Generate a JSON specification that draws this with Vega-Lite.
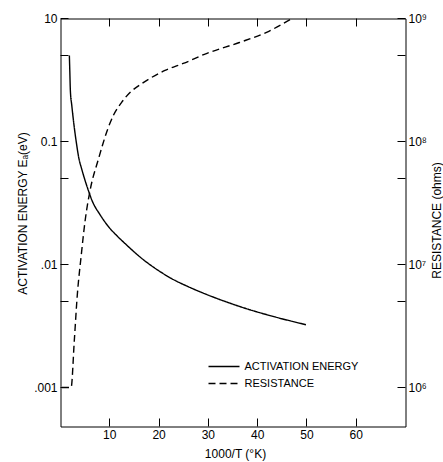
{
  "$schema": "https://vega.github.io/schema/vega-lite/v6.json",
  "width": 345,
  "height": 408,
  "autosize": {"type": "none"},
  "padding": {"left": 60.5, "top": 18.5, "right": 37.5, "bottom": 35.5},
  "background": "white",
  "config": {
    "view": {"stroke": "black", "strokeWidth": 1},
    "font": "Liberation Sans",
    "axis": {
      "domain": false,
      "tickColor": "black",
      "labelColor": "black",
      "titleColor": "black",
      "labelFont": "Liberation Sans",
      "titleFont": "Liberation Sans",
      "labelFontSize": 12,
      "titleFontSize": 12,
      "titleFontWeight": "normal",
      "grid": false,
      "offset": -8,
      "tickSize": 8,
      "tickWidth": 1,
      "labelPadding": 3,
      "labelOverlap": false,
      "labelFlush": false,
      "translate": 0
    }
  },
  "data": {
    "values": [
      {"series": "ACTIVATION ENERGY", "x": 1.8, "y": 0.5},
      {"series": "ACTIVATION ENERGY", "x": 1.9, "y": 0.36},
      {"series": "ACTIVATION ENERGY", "x": 2.0, "y": 0.26},
      {"series": "ACTIVATION ENERGY", "x": 2.3, "y": 0.195},
      {"series": "ACTIVATION ENERGY", "x": 2.7, "y": 0.14},
      {"series": "ACTIVATION ENERGY", "x": 3.2, "y": 0.099},
      {"series": "ACTIVATION ENERGY", "x": 3.7, "y": 0.074},
      {"series": "ACTIVATION ENERGY", "x": 4.3, "y": 0.0598},
      {"series": "ACTIVATION ENERGY", "x": 5.0, "y": 0.048},
      {"series": "ACTIVATION ENERGY", "x": 5.7, "y": 0.0395},
      {"series": "ACTIVATION ENERGY", "x": 6.4, "y": 0.0331},
      {"series": "ACTIVATION ENERGY", "x": 8.0, "y": 0.0255},
      {"series": "ACTIVATION ENERGY", "x": 9.7, "y": 0.0204},
      {"series": "ACTIVATION ENERGY", "x": 11.4, "y": 0.0172},
      {"series": "ACTIVATION ENERGY", "x": 13.1, "y": 0.0148},
      {"series": "ACTIVATION ENERGY", "x": 16.5, "y": 0.0112},
      {"series": "ACTIVATION ENERGY", "x": 19.5, "y": 0.00914},
      {"series": "ACTIVATION ENERGY", "x": 22.5, "y": 0.0077},
      {"series": "ACTIVATION ENERGY", "x": 26.0, "y": 0.00658},
      {"series": "ACTIVATION ENERGY", "x": 29.2, "y": 0.0058},
      {"series": "ACTIVATION ENERGY", "x": 33.5, "y": 0.00499},
      {"series": "ACTIVATION ENERGY", "x": 37.6, "y": 0.00439},
      {"series": "ACTIVATION ENERGY", "x": 43.5, "y": 0.00375},
      {"series": "ACTIVATION ENERGY", "x": 49.8, "y": 0.00324},
      {"series": "RESISTANCE", "x": 0.3, "y": 1000000},
      {"series": "RESISTANCE", "x": 2.15, "y": 1000000},
      {"series": "RESISTANCE", "x": 2.8, "y": 2400000},
      {"series": "RESISTANCE", "x": 3.4, "y": 5600000},
      {"series": "RESISTANCE", "x": 4.2, "y": 11800000},
      {"series": "RESISTANCE", "x": 5.0, "y": 22800000},
      {"series": "RESISTANCE", "x": 6.0, "y": 40000000},
      {"series": "RESISTANCE", "x": 7.7, "y": 72000000},
      {"series": "RESISTANCE", "x": 9.7, "y": 130000000},
      {"series": "RESISTANCE", "x": 10.7, "y": 162000000},
      {"series": "RESISTANCE", "x": 12.4, "y": 208000000},
      {"series": "RESISTANCE", "x": 14.1, "y": 250000000},
      {"series": "RESISTANCE", "x": 16.5, "y": 296000000},
      {"series": "RESISTANCE", "x": 18.1, "y": 325000000},
      {"series": "RESISTANCE", "x": 21.2, "y": 378000000},
      {"series": "RESISTANCE", "x": 24.9, "y": 431000000},
      {"series": "RESISTANCE", "x": 29.6, "y": 519000000},
      {"series": "RESISTANCE", "x": 36.3, "y": 638000000},
      {"series": "RESISTANCE", "x": 41.7, "y": 769000000},
      {"series": "RESISTANCE", "x": 47.0, "y": 1000000000}
    ]
  },
  "layer": [
    {
      "transform": [{"filter": "datum.series === 'ACTIVATION ENERGY'"}],
      "mark": {"type": "line", "interpolate": "monotone", "strokeWidth": 1.4, "color": "black"},
      "encoding": {
        "x": {
          "field": "x", "type": "quantitative",
          "scale": {"domain": [0, 70], "nice": false, "zero": false},
          "axis": {
            "orient": "bottom",
            "values": [10, 20, 30, 40, 50, 60],
            "title": "1000/T (°K)",
            "titleX": 175,
            "titleY": 35,
            "titleBaseline": "middle",
            "titleAlign": "center"
          }
        },
        "y": {
          "field": "y", "type": "quantitative",
          "scale": {"type": "log", "domain": [0.000482, 1], "nice": false},
          "axis": {
            "orient": "left",
            "values": [1, 0.5, 0.1, 0.05, 0.01, 0.005, 0.001],
            "labelExpr": "datum.value === 1 ? '10' : datum.value === 0.1 ? '0.1' : datum.value === 0.01 ? '.01' : datum.value === 0.001 ? '.001' : ''",
            "title": "ACTIVATION ENERGY  Eₐ(eV)",
            "titleAngle": 270,
            "titleX": -46,
            "titleY": 195,
            "titleBaseline": "middle",
            "titleAlign": "center"
          }
        },
        "strokeDash": {
          "field": "series", "type": "nominal",
          "scale": {"domain": ["ACTIVATION ENERGY", "RESISTANCE"], "range": [[1, 0], [7, 4]]},
          "legend": {
            "orient": "none",
            "legendX": 147,
            "legendY": 342,
            "title": null,
            "symbolType": "stroke",
            "symbolSize": 961,
            "symbolStrokeWidth": 1.3,
            "symbolStrokeColor": "black",
            "labelFont": "Liberation Sans",
            "labelFontSize": 11,
            "labelColor": "black",
            "labelOffset": 4,
            "clipHeight": 12,
            "rowPadding": 5,
            "padding": 0,
            "encode": {"symbols": {"update": {"strokeDash": {"signal": "datum.value === 'RESISTANCE' ? [4, 2.5] : [1, 0]"}}}}
          }
        }
      }
    },
    {
      "transform": [{"filter": "datum.series === 'RESISTANCE'"}],
      "mark": {"type": "line", "interpolate": "monotone", "strokeWidth": 1.4, "color": "black"},
      "encoding": {
        "x": {
          "field": "x", "type": "quantitative",
          "scale": {"domain": [0, 70], "nice": false, "zero": false},
          "axis": {
            "orient": "top",
            "values": [10, 20, 30, 40, 50, 60],
            "labels": false,
            "title": null
          }
        },
        "y": {
          "field": "y", "type": "quantitative",
          "scale": {"type": "log", "domain": [482000, 1000000000], "nice": false},
          "axis": {
            "orient": "right",
            "values": [1000000000, 500000000, 100000000, 50000000, 10000000, 5000000, 1000000],
            "labelExpr": "datum.value === 1000000000 ? '10⁹' : datum.value === 100000000 ? '10⁸' : datum.value === 10000000 ? '10⁷' : datum.value === 1000000 ? '10⁶' : ''",
            "title": "RESISTANCE  (ohms)",
            "titleAngle": 270,
            "titleX": 39,
            "titleY": 202,
            "titleBaseline": "middle",
            "titleAlign": "center"
          }
        },
        "strokeDash": {"field": "series", "type": "nominal"}
      }
    }
  ],
  "resolve": {"scale": {"y": "independent"}, "axis": {"x": "independent"}}
}
